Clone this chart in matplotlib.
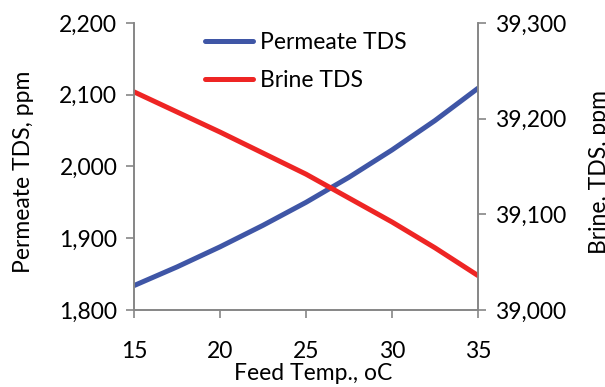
import matplotlib
matplotlib.use("Agg")
import matplotlib.pyplot as plt
from matplotlib.ticker import FuncFormatter

temps = [15, 17.5, 20, 22.5, 25, 27.5, 30, 32.5, 35]
permeate_tds = [1834, 1860, 1888, 1918, 1950, 1985, 2023, 2064, 2109]
brine_tds = [39228, 39207, 39186, 39164, 39142, 39117, 39092, 39065, 39036]
x_ticks = [15, 20, 25, 30, 35]
left_ticks = [1800, 1900, 2000, 2100, 2200]
right_ticks = [39000, 39100, 39200, 39300]

plt.rcParams['font.family'] = ['Lato', 'DejaVu Sans']
FS = 16.5
GRAY = '#868686'
BLUE = '#3F56A6'
RED = '#EE2524'

fig = plt.figure(figsize=(6.05, 3.87), dpi=100)
ax = fig.add_axes([0.2215, 0.199, 0.5685, 0.7416])
ax2 = ax.twinx()

l1, = ax.plot(temps, permeate_tds, color=BLUE, lw=3.6, solid_capstyle='round',
              solid_joinstyle='round', label='Permeate TDS')
l2, = ax2.plot(temps, brine_tds, color=RED, lw=3.6, solid_capstyle='round',
               solid_joinstyle='round', label='Brine TDS')

ax.set_xlim(15, 35)
ax.set_ylim(1800, 2200)
ax2.set_ylim(39000, 39300)
ax.set_xticks(x_ticks)
ax.set_yticks(left_ticks)
ax2.set_yticks(right_ticks)
fmt = FuncFormatter(lambda v, p: f"{int(v):,}")
ax.yaxis.set_major_formatter(fmt)
ax2.yaxis.set_major_formatter(fmt)

for a in (ax, ax2):
    a.spines['top'].set_visible(False)
    for s in ('left', 'right', 'bottom'):
        a.spines[s].set_color(GRAY)
        a.spines[s].set_linewidth(1.2)
    a.tick_params(axis='both', direction='out', length=6, width=1.2, color=GRAY,
                  labelsize=FS, pad=6)
ax.tick_params(axis='x', pad=16)

ax.set_ylabel('Permeate TDS, ppm', fontsize=FS)
ax.yaxis.set_label_coords(-0.29, 0.48)
ax2.set_ylabel('Brine, TDS, ppm', fontsize=FS)
ax2.yaxis.set_label_coords(1.322, 0.48)
ax.set_xlabel('Feed Temp., oC', fontsize=FS)
ax.xaxis.set_label_coords(0.52, -0.183)

leg = ax.legend([l1, l2], ['Permeate TDS', 'Brine TDS'], loc='upper left',
                bbox_to_anchor=(0.145, 1.04), frameon=False, fontsize=FS,
                handlelength=2.1, handletextpad=0.3, labelspacing=0.75)

fig.savefig('out.png', dpi=100)
